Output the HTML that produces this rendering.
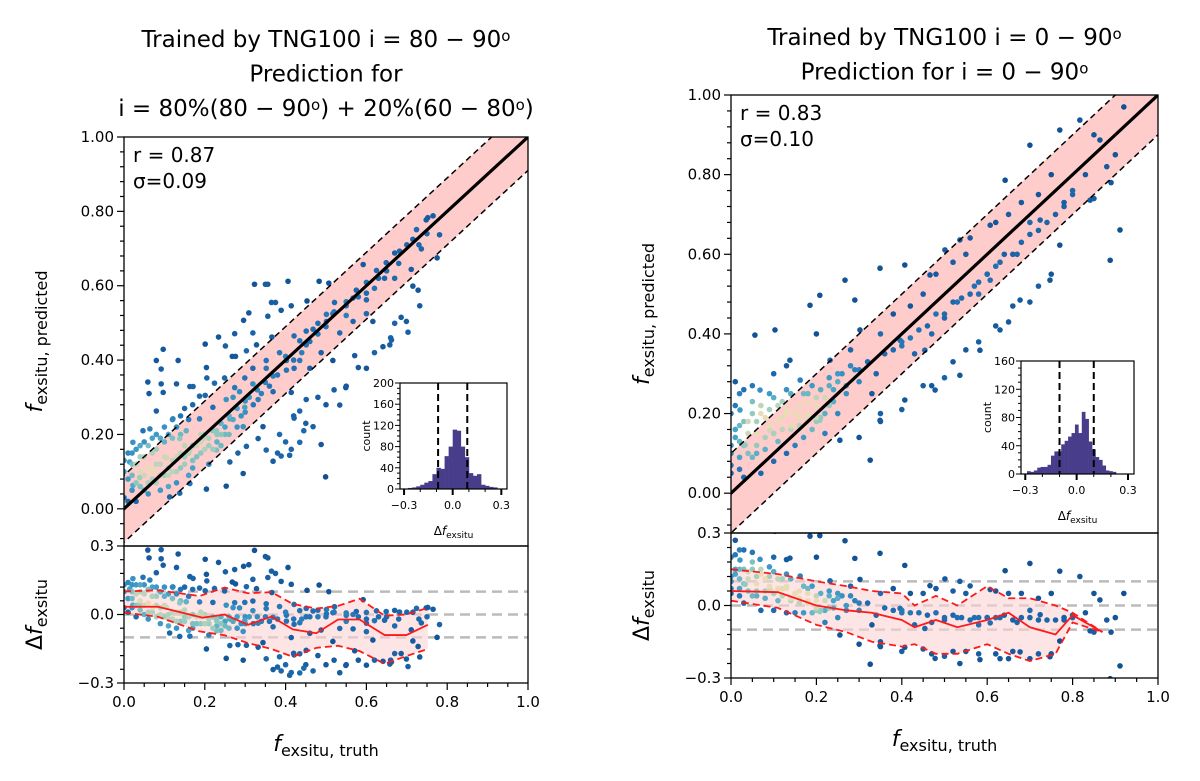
<!DOCTYPE html>
<html><head><meta charset="utf-8"><style>
html,body{margin:0;padding:0;background:#fff;}
svg{display:block;font-family:"DejaVu Sans","Liberation Sans",sans-serif;}
</style></head><body>
<svg id="fig" width="1200" height="781" viewBox="0 0 1200 781" xmlns="http://www.w3.org/2000/svg"></svg>
<script>
// ---------- DATA ----------
const leftPoints = [[.323,.604],[.35,.604],[.356,.604],[.406,.612],[.483,.612],[.507,.607],[.365,.555],[.375,.555],[.414,.546],[.453,.559],[.389,.534],[.309,.527],[.356,.518],[.296,.507],[.274,.471],[.234,.462],[.319,.473],[.201,.443],[.251,.438],[.268,.41],[.276,.41],[.303,.425],[.328,.441],[.366,.462],[.421,.465],[.451,.478],[.48,.499],[.501,.523],[.521,.555],[.55,.557],[.575,.588],[.6,.562],[.62,.593],[.645,.62],[.67,.62],[.67,.688],[.592,.657],[.616,.504],[.641,.436],[.658,.441],[.662,.454],[.67,.499],[.686,.515],[.703,.475],[.699,.504],[.715,.599],[.732,.546],[.728,.588],[.765,.788],[.781,.737],[.736,.699],[.724,.751],[.752,.783],[.775,.675],[.711,.644],[.08,.399],[.097,.429],[.134,.399],[.092,.376],[.059,.341],[.062,.31],[.092,.336],[.097,.313],[.13,.336],[.163,.329],[.171,.329],[.204,.38],[.205,.352],[.224,.338],[.249,.352],[.201,.305],[.187,.303],[.274,.326],[.299,.352],[.319,.378],[.352,.378],[.369,.357],[.402,.373],[.435,.399],[.46,.378],[.414,.313],[.451,.294],[.435,.263],[.421,.244],[.445,.21],[.414,.16],[.41,.144],[.435,.179],[.468,.221],[.488,.173],[.499,.086],[.534,.279],[.6,.378],[.571,.412],[.517,.399],[.549,.326],[.344,.221],[.332,.189],[.369,.128],[.389,.142],[.295,.221],[.295,.095],[.282,.15],[.253,.061],[.204,.053],[.138,.042],[.113,.032],[.163,.068],[.303,.168],[.352,.158],[.385,.2],[.262,.126],[.229,.158],
[.187,.242],[.22,.273],[.253,.294],[.286,.315],[.319,.336],[.352,.399],[.385,.42],[.402,.399],[.435,.452],[.468,.483],[.501,.504],[.517,.525],[.55,.546],[.567,.567],[.6,.609],[.625,.641],[.649,.662],[.682,.693],[.715,.725],[.748,.777],[.534,.473],[.567,.504],[.6,.525],[.488,.42],[.451,.441],[.421,.378],[.369,.315],[.332,.294],[.299,.273],[.262,.242],[.229,.21],[.196,.189],[.163,.158],[.154,.21],[.138,.189],[.105,.137],[.072,.104],[.039,.084],[.022,.063],[.014,.126],[.022,.179],[.047,.21],[.064,.215],[.121,.242],[.08,.263],
[.02,.05],[.04,.06],[.05,.09],[.06,.04],[.07,.1],[.08,.07],[.09,.12],[.1,.09],[.11,.06],[.12,.13],[.13,.1],[.14,.15],[.15,.12],[.16,.09],[.17,.17],[.18,.14],[.19,.2],[.2,.16],[.21,.12],[.22,.21],[.23,.18],[.24,.23],[.25,.2],[.03,.12],[.05,.14],[.08,.16],[.1,.18],[.12,.19],[.14,.2],[.01,.08],[.03,.02],[.06,.07],[.09,.05],[.11,.11],[.13,.07],[.15,.17],[.17,.11],[.19,.15],[.21,.19],[0,.1],[.02,.15],[.04,.17],[.07,.19],[.26,.25],[.28,.22],[.27,.3],[.3,.26],[.24,.17],
[0,.13],[.01,.15],[.02,.12],[.03,.16],[.04,.14],[.05,.18],[.06,.17],[.07,.15],[.08,.2],[.09,.19],[.1,.22],[.11,.2],[.12,.24],[.13,.22],[.14,.25],[.15,.27],[.16,.24],[.17,.28],[0,.03],[.01,.02],[.02,.09],[.03,.07],[.04,.1],[.05,.05],[.06,.11],[.07,.08],[.08,.12],[.09,.09],[.1,.14],[.11,.09],[.12,.1],[.13,.14],[.14,.11],[.15,.14],[.16,.15],[.17,.13],[.18,.17],[.19,.18],[.2,.2],[.21,.17],[.22,.16],[.23,.2],[.24,.2],[.25,.22],[.26,.2],[.27,.24],[.28,.27],[.29,.25],[.3,.29],[.31,.3],[.32,.28],[.33,.32],[.34,.31],[.35,.34],[.36,.33],[.38,.36],[.4,.41],[.42,.4],[.44,.42],[.46,.45],[.48,.47],[.5,.49],[.52,.53],[.55,.52],[.58,.57],[.6,.58],[.63,.62],[.65,.64],[.68,.66],[.7,.71],[.73,.71],[.75,.74],
[.4,.18],[.45,.23],[.5,.28],[.55,.33],[.38,.15],[.58,.38],[.62,.42],[.66,.46],[.48,.3],[.42,.25],[.52,.32]];
const rightPoints = [[.056,.397],[.103,.41],[.185,.472],[.208,.497],[.267,.535],[.29,.485],[.349,.565],[.407,.573],[.466,.548],[.501,.611],[.56,.641],[.607,.673],[.642,.786],[.7,.874],[.77,.912],[.817,.937],[.864,.887],[.841,.736],[.888,.585],[.911,.661],[.77,.623],[.747,.535],[.677,.485],[.63,.41],[.583,.359],[.536,.296],[.478,.259],[.407,.234],[.349,.183],[.326,.083],[.255,.133],[.208,.183],[.162,.284],[.138,.334],[.068,.259],[.021,.209],[.033,.121],[.091,.158],[.536,.636],[.607,.535],[.724,.686],[.454,.359],[.396,.384],[.302,.41],[.232,.334],
[.1,.15],[.15,.2],[.2,.18],[.25,.3],[.3,.28],[.35,.4],[.4,.38],[.45,.5],[.5,.45],[.55,.6],[.6,.55],[.65,.7],[.7,.68],[.75,.8],[.8,.75],[.85,.9],[.9,.85],[.92,.97],[.33,.25],[.38,.45],[.43,.35],[.48,.55],[.53,.48],[.58,.5],[.62,.68],[.67,.6],[.72,.75],[.78,.72],[.83,.8],[.88,.82],[.28,.36],[.23,.27],[.18,.25],[.13,.2],[.42,.47],[.47,.4],[.52,.58],[.57,.52],[.63,.58],[.68,.73],
[.4,.21],[.47,.27],[.52,.33],[.62,.42],[.66,.47],[.72,.52],[.55,.36],[.35,.2],
[0,.1],[.01,.14],[.02,.06],[.03,.12],[.04,.18],[.05,.09],[.06,.15],[.07,.2],[.08,.11],[.09,.17],[.1,.08],[.11,.13],[.12,.19],[.13,.1],[.14,.16],[.15,.12],[.16,.22],[.17,.14],[.18,.2],[.19,.16],[.2,.24],[.21,.19],[.22,.15],[.23,.22],[.24,.26],[0,.2],[.01,.22],[.02,.25],[.03,.04],[.05,.23],[.07,.05],[.09,.25],[.11,.22],[.13,.26],[.25,.2],[.27,.25],[.29,.31],[0,.05],[.02,.17],[.06,.1],
[.01,.28],[.03,.26],[.05,.27],[.1,.3],[.13,.32],[.2,.4],
[0,.12],[.01,.16],[.02,.13],[.03,.18],[.04,.15],[.05,.2],[.06,.18],[.07,.22],[.08,.19],[.09,.21],[.1,.24],[.11,.18],[.12,.23],[.13,.21],[.14,.25],[.15,.2],[.16,.19],[.17,.25],[.18,.23],[.19,.27],[.2,.22],[.21,.26],[.22,.24],[.23,.29],[.24,.23],[.25,.28],[.26,.3],[.27,.27],[.28,.32],[.3,.31],[.32,.33],[.34,.3],[.36,.35],[.38,.36],[.4,.37],[.42,.39],[.44,.41],[.46,.42],[.48,.45],[.5,.44],[.52,.48],[.54,.49],[.56,.5],[.58,.53],[.6,.55],[.62,.57],[.64,.6],[.66,.6],[.68,.63],[.7,.65],[.72,.66],[.74,.68],[.76,.7],[.78,.73],[.8,.76],[0,.07],[.02,.09],[.04,.1],[.06,.12],[.08,.14],[.1,.15],[.12,.16],[.14,.17],[.16,.17],[.18,.19],[.2,.19],[.22,.2],[.3,.14],[.35,.18],[.45,.27],[.5,.29],[.58,.38],[.65,.43],[.7,.48],[.75,.55],[.85,.74],[.89,.78]];

const leftMedian = [[0,.034],[.084,.034],[.195,-.014],[.249,0],[.307,-.045],[.365,-.009],[.418,-.065],[.476,-.082],[.53,-.022],[.583,-.022],[.645,-.09],[.699,-.09],[.752,-.045]];
const leftUpper = [[0,.101],[.084,.106],[.187,.081],[.249,.118],[.307,.093],[.365,.098],[.418,.046],[.476,.026],[.53,.038],[.583,.069],[.645,-.005],[.699,0],[.752,.029]];
const leftLower = [[0,.009],[.084,-.01],[.187,-.074],[.249,-.091],[.307,-.125],[.365,-.151],[.418,-.185],[.476,-.146],[.53,-.137],[.583,-.16],[.645,-.216],[.699,-.182],[.752,-.151]];
const rightMedian = [[0,.06],[.11,.055],[.2,0],[.27,-.02],[.33,-.03],[.4,-.06],[.43,-.09],[.48,-.06],[.53,-.09],[.6,-.06],[.65,-.03],[.7,-.09],[.76,-.12],[.8,-.04],[.87,-.11]];
const rightUpper = [[0,.15],[.11,.13],[.2,.1],[.27,.08],[.33,.06],[.4,.05],[.43,0],[.48,.04],[.53,0],[.6,.08],[.65,.03],[.7,.03],[.76,0],[.8,-.03],[.87,-.11]];
const rightLower = [[0,.02],[.11,-.01],[.2,-.08],[.27,-.11],[.33,-.15],[.4,-.17],[.43,-.16],[.48,-.2],[.53,-.2],[.6,-.16],[.65,-.2],[.7,-.23],[.76,-.2],[.8,-.07],[.87,-.11]];

const leftHistStart = -0.275, leftHistWidth = 0.025;
const leftHistCounts = [2,3,5,8,12,15,28,40,38,62,80,112,110,80,60,30,25,28,8,6,4,3];
const rightHistStart = -0.29, rightHistWidth = 0.02;
const rightHistCounts = [4,3,5,9,10,10,13,26,32,32,42,47,53,58,70,58,88,78,46,35,24,20,12,5,4,3];

const mainYTicks = [0,0.2,0.4,0.6,0.8,1.0];
const mainYTickLabels = ["0.00","0.20","0.40","0.60","0.80","1.00"];
const xTicks = [0,0.2,0.4,0.6,0.8,1.0];
const xTickLabels = ["0.0","0.2","0.4","0.6","0.8","1.0"];
const resTicks = [-0.3,0,0.3];
const resTickLabels = ["\u22120.3","0.0","0.3"];
const histXTicks = [-0.3,0,0.3];
const histXTickLabels = ["\u22120.3","0.0","0.3"];
const leftHistYTicks = [0,40,80,120,160,200];
const rightHistYTicks = [0,40,80,120,160];

// ---------- DRAW ----------
const NS = "http://www.w3.org/2000/svg";
const svg = document.getElementById('fig');
function mk(tag, attrs, parent){ const e=document.createElementNS(NS,tag); for(const k in attrs) e.setAttribute(k,attrs[k]); (parent||svg).appendChild(e); return e; }

function lerpColor(t){
  const stops=[[0,[16,78,145]],[0.3,[33,113,181]],[0.55,[65,160,200]],[0.78,[150,205,190]],[1,[233,220,181]]];
  t=Math.max(0,Math.min(1,t));
  for(let i=1;i<stops.length;i++){ if(t<=stops[i][0]){ const a=stops[i-1],b=stops[i]; const f=(t-a[0])/(b[0]-a[0]); return 'rgb('+a[1].map((v,j)=>Math.round(v+(b[1][j]-v)*f)).join(',')+')'; } }
  return 'rgb(233,220,181)';
}

function panel(c){
  const g = mk('g',{});
  
  
  const X = v => c.x0 + v*(c.x1-c.x0);
  const Y = v => c.mid - (v+0.1)/1.1*(c.mid-c.top);
  const R = v => c.bot - (v+0.3)/0.6*(c.bot-c.mid);
  const clipM = mk('clipPath',{id:c.id+'cm'},g); mk('rect',{x:c.x0,y:c.top,width:c.x1-c.x0,height:c.mid-c.top},clipM);
  const clipR = mk('clipPath',{id:c.id+'cr'},g); mk('rect',{x:c.x0,y:c.mid,width:c.x1-c.x0,height:c.bot-c.mid},clipR);
  const gm = mk('g',{'clip-path':'url(#'+c.id+'cm)'},g);
  const gr = mk('g',{'clip-path':'url(#'+c.id+'cr)'},g);
  const band = mk('polygon',{points:[[ -0.1,-0.1+c.sigma],[1.1,1.1+c.sigma],[1.1,1.1-c.sigma],[-0.1,-0.1-c.sigma]].map(p=>X(p[0])+','+Y(p[1])).join(' '),fill:'#ffcccc'},gm);
  
  
  [-0.1,0,0.1].forEach(v=>{ const l=mk('line',{x1:c.x0,x2:c.x1,y1:R(v),y2:R(v),stroke:'#bbbbbb','stroke-width':2.5,'stroke-dasharray':'10,6'},gr);
    
     });
  const rb = mk('polygon',{points:c.up.map(p=>X(p[0])+','+R(p[1])).concat(c.lo.slice().reverse().map(p=>X(p[0])+','+R(p[1]))).join(' '),fill:'#fbd3d6','fill-opacity':0.6},gr);
  
  
  const pts=c.pts;
  const dens=pts.map(p=>{let n=0; pts.forEach(q=>{const dx=p[0]-q[0],dy=p[1]-q[1]; if(dx*dx+dy*dy<0.0036) n++;}); return n;});
  const mx=Math.max(...dens);
  const order=pts.map((p,i)=>i).sort((a,b)=>dens[a]-dens[b]);
  order.forEach(i=>{ const p=pts[i]; const col=lerpColor(Math.pow(dens[i]/mx,1.3)*1.1);
    const a=mk('circle',{cx:X(p[0]),cy:Y(p[1]),r:2.8,fill:col},gm);
    
    
    const b=mk('circle',{cx:X(p[0]),cy:R(p[1]-p[0]),r:2.8,fill:col},gr);
    
     });
  [c.sigma,-c.sigma].forEach(o=>{ const l=mk('line',{x1:X(-0.1),y1:Y(-0.1+o),x2:X(1.1),y2:Y(1.1+o),stroke:'#000','stroke-width':1.5,'stroke-dasharray':'6,4'},gm);
    
     });
  const one=mk('line',{x1:X(-0.1),y1:Y(-0.1),x2:X(1.1),y2:Y(1.1),stroke:'#000','stroke-width':3.2},gm);
  
  
  const pl = arr => arr.map(p=>X(p[0])+','+R(p[1])).join(' ');
  [c.up,c.lo].forEach(a=>{ const l=mk('polyline',{points:pl(a),fill:'none',stroke:'#ff1a1a','stroke-width':1.8,'stroke-dasharray':'7,4'},gr);
    
     });
  const med=mk('polyline',{points:pl(c.med),fill:'none',stroke:'#ff1a1a','stroke-width':1.8},gr);
  
  
  mk('rect',{x:c.x0,y:c.top,width:c.x1-c.x0,height:c.mid-c.top,fill:'none',stroke:'#000','stroke-width':1.3},g);
  mk('rect',{x:c.x0,y:c.mid,width:c.x1-c.x0,height:c.bot-c.mid,fill:'none',stroke:'#000','stroke-width':1.3},g);
  for(let v=0; v<=1.0001; v+=0.04){ const big=Math.abs(v*5-Math.round(v*5))<1e-6; mk('line',{x1:c.x0-(big?7:4),x2:c.x0,y1:Y(v),y2:Y(v),stroke:'#000','stroke-width':1.2},g); }
  mainYTicks.forEach((v,i)=>{ const t=mk('text',{x:c.x0-10,y:Y(v)+5,'text-anchor':'end','font-size':15},g); t.textContent=mainYTickLabels[i];
    
     });
  mk('line',{x1:c.x0-4,x2:c.x0,y1:Y(-0.04),y2:Y(-0.04),stroke:'#000','stroke-width':1.2},g);
  mk('line',{x1:c.x0-4,x2:c.x0,y1:Y(-0.08),y2:Y(-0.08),stroke:'#000','stroke-width':1.2},g);
  for(let v=-0.3; v<=0.3001; v+=0.06){ const big=Math.abs(v/0.3-Math.round(v/0.3))<1e-6; mk('line',{x1:c.x0-(big?7:4),x2:c.x0,y1:R(v),y2:R(v),stroke:'#000','stroke-width':1.2},g); }
  resTicks.forEach((v,i)=>{ const t=mk('text',{x:c.x0-10,y:R(v)+5,'text-anchor':'end','font-size':15},g); t.textContent=resTickLabels[i];
    
     });
  for(let v=0; v<=1.0001; v+=0.05){ const big=Math.abs(v*5-Math.round(v*5))<1e-6; mk('line',{x1:X(v),x2:X(v),y1:c.bot,y2:c.bot+(big?7:4),stroke:'#000','stroke-width':1.2},g); }
  xTicks.forEach((v,i)=>{ const t=mk('text',{x:X(v),y:c.bot+24,'text-anchor':'middle','font-size':15},g); t.textContent=xTickLabels[i];
    
     });
  const cx=(c.x0+c.x1)/2;
  const xt=mk('text',{x:cx,y:c.bot+68,'text-anchor':'middle','font-size':22},g);
  xt.innerHTML='<tspan font-style="italic">f</tspan><tspan font-size="16" dy="5">exsitu, truth</tspan>';
  
  
  const ym=(c.top+c.mid)/2;
  const yt=mk('text',{x:0,y:0,'text-anchor':'middle','font-size':22,transform:'translate('+(c.x0-82)+','+ym+') rotate(-90)'},g);
  yt.innerHTML='<tspan font-style="italic">f</tspan><tspan font-size="16" dy="5">exsitu, predicted</tspan>';
  
  
  const rt=mk('text',{x:0,y:0,'text-anchor':'middle','font-size':22,transform:'translate('+(c.x0-82)+','+((c.mid+c.bot)/2)+') rotate(-90)'},g);
  rt.innerHTML='\u0394<tspan font-style="italic">f</tspan><tspan font-size="16" dy="5">exsitu</tspan>';
  
  
  const s1=mk('text',{x:c.x0+9,y:c.top+25,'font-size':20},g); s1.textContent=c.rtxt;
  
  
  const s2=mk('text',{x:c.x0+9,y:c.top+51,'font-size':20},g); s2.textContent=c.stxt;
  
  
  c.titles.forEach((tl,i)=>{ const t=mk('text',{x:cx,y:c.titleY+i*34.5,'text-anchor':'middle','font-size':23},g); t.innerHTML=tl;
    
     });
  const h=c.inset;
  const hg=mk('g',{},g);
  
  
  mk('rect',{x:h.l,y:h.t,width:h.r-h.l,height:h.b-h.t,fill:'#fff'},hg);
  const HX = v => h.l + (v+0.325)/0.66*(h.r-h.l);
  const HY = v => h.b - v/c.hmax*(h.b-h.t);
  c.hist.forEach((n,i)=>{ const x0=c.hstart+i*c.hw; const b=mk('rect',{x:HX(x0),y:HY(n),width:HX(x0+c.hw)-HX(x0)+0.3,height:h.b-HY(n),fill:'#483d8b'},hg);
    
     });
  [-c.sigma,c.sigma].forEach(v=>mk('line',{x1:HX(v),x2:HX(v),y1:h.t,y2:h.b,stroke:'#000','stroke-width':2,'stroke-dasharray':'7,4'},hg));
  mk('rect',{x:h.l,y:h.t,width:h.r-h.l,height:h.b-h.t,fill:'none',stroke:'#000','stroke-width':1.2},hg);
  for(let v=0; v<=c.hmax; v+=10){ const big=v%40===0; mk('line',{x1:h.l-(big?5:3),x2:h.l,y1:HY(v),y2:HY(v),stroke:'#000','stroke-width':1},hg); }
  c.hyt.forEach(v=>{ const t=mk('text',{x:h.l-6,y:HY(v)+4,'text-anchor':'end','font-size':11},hg); t.textContent=String(v); });
  for(let v=-0.3; v<=0.3001; v+=0.1){ const big=Math.abs(v/0.3-Math.round(v/0.3))<1e-6; mk('line',{x1:HX(v),x2:HX(v),y1:h.b,y2:h.b+(big?6:3),stroke:'#000','stroke-width':big?2:1},hg); }
  histXTicks.forEach((v,i)=>{ const t=mk('text',{x:HX(v),y:h.b+20,'text-anchor':'middle','font-size':11},hg); t.textContent=histXTickLabels[i]; });
  const ct=mk('text',{x:0,y:0,'text-anchor':'middle','font-size':11,transform:'translate('+(h.l-30)+','+((h.t+h.b)/2)+') rotate(-90)'},hg); ct.textContent='count';
  const hx=mk('text',{x:(h.l+h.r)/2,y:h.b+46,'text-anchor':'middle','font-size':12},hg);
  hx.innerHTML='\u0394<tspan font-style="italic">f</tspan><tspan font-size="9" dy="3">exsitu</tspan>';
}

const deg='<tspan font-size="15" baseline-shift="40%">o</tspan>';
panel({id:'L',name:'left-panel',x0:124,x1:528,top:137,mid:546,bot:683,sigma:0.09,pts:leftPoints,med:leftMedian,up:leftUpper,lo:leftLower,
  hist:leftHistCounts,hstart:leftHistStart,hw:leftHistWidth,hmax:200,hyt:leftHistYTicks,inset:{l:400,r:507,t:383,b:489},
  rtxt:'r = 0.87',stxt:'\u03c3=0.09',titleY:47,
  titles:['Trained by TNG100 i = 80 \u2212 90'+deg,'Prediction for','i = 80%(80 \u2212 90'+deg+') + 20%(60 \u2212 80'+deg+')']});
panel({id:'R',name:'right-panel',x0:731,x1:1158,top:95,mid:533,bot:678,sigma:0.10,pts:rightPoints,med:rightMedian,up:rightUpper,lo:rightLower,
  hist:rightHistCounts,hstart:rightHistStart,hw:rightHistWidth,hmax:160,hyt:rightHistYTicks,inset:{l:1021,r:1134,t:361,b:474},
  rtxt:'r = 0.83',stxt:'\u03c3=0.10',titleY:45,
  titles:['Trained by TNG100 i = 0 \u2212 90'+deg,'Prediction for i = 0 \u2212 90'+deg]});
</script>
</body></html>
